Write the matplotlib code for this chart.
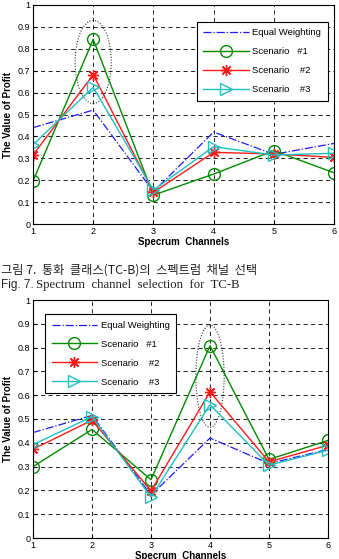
import matplotlib
matplotlib.use("Agg")
import matplotlib.pyplot as plt
from matplotlib.patches import Ellipse

channels = [1, 2, 3, 4, 5, 6]

# Fig 7 (top)
top_equal = [0.44, 0.52, 0.148, 0.42, 0.318, 0.368]
top_s1 = [0.196, 0.843, 0.132, 0.228, 0.335, 0.234]
top_s2 = [0.315, 0.682, 0.145, 0.327, 0.32, 0.304]
top_s3 = [0.362, 0.624, 0.155, 0.353, 0.315, 0.323]

# bottom figure
bot_equal = [0.443, 0.515, 0.18, 0.42, 0.313, 0.372]
bot_s1 = [0.30, 0.456, 0.245, 0.808, 0.33, 0.41]
bot_s2 = [0.373, 0.495, 0.198, 0.614, 0.32, 0.39]
bot_s3 = [0.392, 0.51, 0.172, 0.56, 0.306, 0.369]

yticks = [0, 0.1, 0.2, 0.3, 0.4, 0.5, 0.6, 0.7, 0.8, 0.9, 1]
ytick_labels = ["0", "0.1", "0.2", "0.3", "0.4", "0.5", "0.6", "0.7", "0.8", "0.9", "1"]
legend_labels = ["Equal Weighting", "Scenario   #1", "Scenario    #2", "Scenario    #3"]
xlabel = "Specrum  Channels"
ylabel = "The Value of Profit"
caption_kr = "그림 7.  통화  클래스(TC-B)의  스펙트럼  채널  선택"
caption_en_a = "Fig. 7."
caption_en_b = "Spectrum  channel  selection  for  TC-B"

W, H = 339, 559
fig = plt.figure(figsize=(W / 100, H / 100), dpi=100)
plt.rcParams['font.family'] = ['Liberation Sans', 'DejaVu Sans']

GREEN = '#008a00'
RED = '#ff1a1a'
CYAN = '#1fbfbf'
BLUE = '#1a1aff'


def make_axes(rect, eq, s1, s2, s3, ell_x, ell_y, ell_w, ell_h, legend_loc, legend_anchor):
    ax = fig.add_axes(rect)
    ax.plot(channels, eq, color=BLUE, linestyle='-.', linewidth=0.9, label=legend_labels[0])
    ax.plot(channels, s1, color=GREEN, marker='o', markersize=8.5, markerfacecolor='none',
            markeredgewidth=1.0, linewidth=1.0, label=legend_labels[1])
    ax.plot(channels, s2, color=RED, marker=(8, 2, 0), markersize=8, markerfacecolor='none',
            markeredgewidth=1.0, linewidth=1.0, label=legend_labels[2])
    ax.plot(channels, s3, color=CYAN, marker='>', markersize=8.5, markerfacecolor='none',
            markeredgewidth=1.0, linewidth=1.0, label=legend_labels[3])
    ax.add_patch(Ellipse((ell_x, ell_y), ell_w, ell_h, fill=False, edgecolor='#333333',
                         linestyle=(0, (1, 1.5)), linewidth=0.8))
    ax.set_xlim(1, 6)
    ax.set_ylim(0, 1)
    ax.set_xticks(channels)
    ax.set_yticks(yticks)
    ax.set_yticklabels(ytick_labels)
    ax.tick_params(direction='in', labelsize=6.5, length=3, pad=2)
    ax.grid(True, color='black', linestyle=(0, (5, 4)), linewidth=0.6)
    for s in ax.spines.values():
        s.set_linewidth(0.8)
    ax.set_xlabel(xlabel, fontsize=7, fontweight='bold', labelpad=1)
    ax.set_ylabel(ylabel, fontsize=7, fontweight='bold', labelpad=3)
    leg = ax.legend(loc=legend_loc, bbox_to_anchor=legend_anchor, fontsize=6.8,
                    fancybox=False, framealpha=1, edgecolor='black', handlelength=4.8,
                    borderpad=0.7, labelspacing=1.05, handletextpad=0.4)
    leg.get_frame().set_linewidth(0.8)
    return ax


make_axes([33 / W, (H - 224) / H, 301 / W, 219 / H], top_equal, top_s1, top_s2, top_s3,
          2.0, 0.74, 0.6, 0.38, 'upper right', (0.995, 0.945))
make_axes([33 / W, (H - 538) / H, 295 / W, 238 / H], bot_equal, bot_s1, bot_s2, bot_s3,
          4.0, 0.68, 0.48, 0.43, 'upper left', (0.025, 0.96))

fig.text(1 / W, 1 - 270 / H, caption_kr, fontsize=8.8, family=['Noto Sans CJK KR', 'DejaVu Sans'],
         va='center', ha='left', color='#222222')
fig.text(1 / W, 1 - 285 / H, caption_en_a, fontsize=8.5, family=['Liberation Sans'],
         va='center', ha='left', color='#222222')
fig.text(36 / W, 1 - 285 / H, caption_en_b, fontsize=9.2, family=['Liberation Serif'],
         va='center', ha='left', color='#222222')

fig.savefig("out.png", dpi=100)
